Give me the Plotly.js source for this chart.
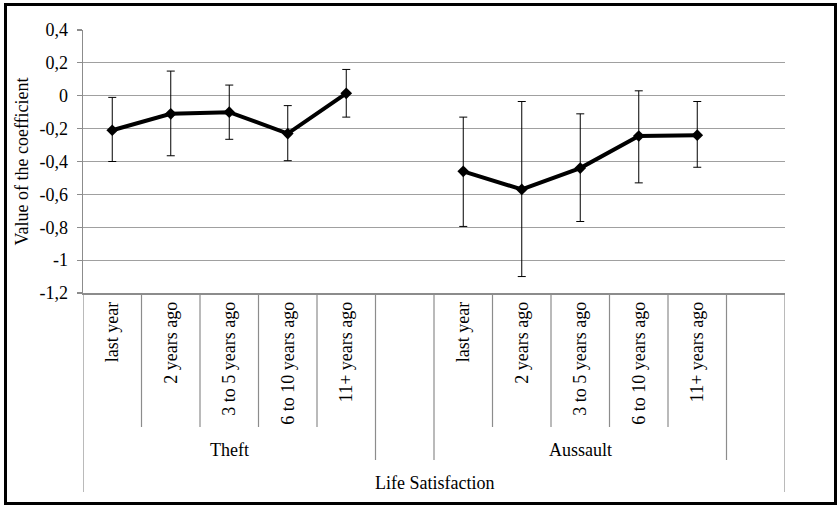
<!DOCTYPE html>
<html>
<head>
<meta charset="utf-8">
<script src="https://cdn.plot.ly/plotly-3.0.1.min.js"></script>
<style>
  html, body { margin: 0; padding: 0; background: #fff; }
  #chart { position: relative; z-index: 1; width: 839px; height: 505px; }
  #pre { position: absolute; left: 200px; top: 200px; z-index: 0; font-family: "Liberation Serif", "Times New Roman", serif; font-size: 18px; color: #fff; }
</style>
</head>
<body>
<div id="pre">Life Satisfaction</div>
<div id="chart"></div>
<script>
// ---- data ----
const periods = ["last year", "2 years ago", "3 to 5 years ago", "6 to 10 years ago", "11+ years ago"];
const groups = ["Theft", "Aussault"];
const outerLabel = "Life Satisfaction";

const theftCoef = [-0.21, -0.11, -0.10, -0.23, 0.015];
const theftHigh = [-0.01, 0.15, 0.065, -0.06, 0.16];
const theftLow  = [-0.40, -0.365, -0.265, -0.395, -0.13];

const assaultCoef = [-0.46, -0.57, -0.44, -0.245, -0.24];
const assaultHigh = [-0.13, -0.035, -0.11, 0.03, -0.035];
const assaultLow  = [-0.795, -1.10, -0.765, -0.53, -0.435];

const yTickVals = [0.4, 0.2, 0, -0.2, -0.4, -0.6, -0.8, -1, -1.2];
const yTickText = ["0,4", "0,2", "0", "-0,2", "-0,4", "-0,6", "-0,8", "-1", "-1,2"];

// ---- layout geometry ----
const W = 839, H = 505;
const M = { l: 83, r: 54, t: 30, b: 212 };
const plotW = W - M.l - M.r, plotH = H - M.t - M.b;
const pxX = p => (p - M.l) / plotW;
const pxY = p => (H - M.b - p) / plotH;

const slotsPerGroup = periods.length + 1;
const nSlots = groups.length * slotsPerGroup;
const tickVals = [], tickText = [];
for (let g = 0; g < groups.length; g++) {
  for (let i = 0; i < slotsPerGroup; i++) {
    tickVals.push(g * slotsPerGroup + i + 1);
    tickText.push(i < periods.length ? periods[i] : "");
  }
}
const xFor = g => periods.map((_, i) => g * slotsPerGroup + i + 1);

const fontFam = "Liberation Serif";
const cssFam = '"Liberation Serif", "Times New Roman", serif';
const FS = 18;
const black = "#000000";
const gray = "#8c8c8c";

function mkTrace(g, coef, hi, lo) {
  return {
    x: xFor(g), y: coef, type: "scatter", mode: "lines+markers",
    line: { color: black, width: 4 },
    marker: { symbol: "diamond", size: 9, color: black },
    error_y: {
      type: "data", symmetric: false,
      array: hi.map((h, i) => h - coef[i]),
      arrayminus: lo.map((l, i) => coef[i] - l),
      color: black, thickness: 1, width: 4
    },
    showlegend: false, hoverinfo: "skip"
  };
}

const traces = [
  mkTrace(0, theftCoef, theftHigh, theftLow),
  mkTrace(1, assaultCoef, assaultHigh, assaultLow)
];

const shapes = [];
const y1Level = pxY(427), y2Level = pxY(460), y3Level = pxY(492);
for (let b = 0; b <= nSlots; b++) {
  let yEnd = y1Level;
  if (b === 0 || b === nSlots) yEnd = y3Level;
  else if (b % slotsPerGroup === 0 || b % slotsPerGroup === periods.length) yEnd = y2Level;
  shapes.push({
    type: "line", xref: "x", yref: "paper",
    x0: b + 0.5, x1: b + 0.5, y0: 0, y1: yEnd,
    line: { color: gray, width: 1.2 }, layer: "below"
  });
}
shapes.push({
  type: "rect", xref: "paper", yref: "paper",
  x0: pxX(5.5), x1: pxX(835.5), y0: pxY(503.5), y1: pxY(4.5),
  line: { color: black, width: 3 }, fillcolor: "rgba(0,0,0,0)"
});

const annotations = [];
groups.forEach((gName, g) => {
  const xs = xFor(g);
  annotations.push({
    text: gName, xref: "x", yref: "paper",
    x: (xs[0] + xs[xs.length - 1]) / 2, y: pxY(450),
    xanchor: "center", yanchor: "middle", showarrow: false
  });
});
annotations.push({
  text: outerLabel, xref: "x", yref: "paper",
  x: (nSlots + 1) / 2, y: pxY(483),
  xanchor: "center", yanchor: "middle", showarrow: false
});

const layout = {
  width: W, height: H,
  margin: M,
  paper_bgcolor: "#fff", plot_bgcolor: "#fff",
  font: { family: fontFam, size: FS, color: black },
  showlegend: false,
  xaxis: {
    range: [0.5, nSlots + 0.5],
    tickmode: "array", tickvals: tickVals, ticktext: tickText,
    tickangle: -90, ticks: "",
    showgrid: false, zeroline: false,
    showline: true, linecolor: gray, linewidth: 1.5,
    fixedrange: true
  },
  yaxis: {
    range: [-1.2, 0.4],
    tickmode: "array", tickvals: yTickVals, ticktext: yTickText,
    ticks: "outside", ticklen: 5, tickcolor: gray, tickwidth: 1.2,
    ticklabelstandoff: 5,
    showgrid: true, gridcolor: "#a0a0a0", gridwidth: 1.2,
    zeroline: false,
    showline: true, linecolor: gray, linewidth: 1.5,
    title: { text: "Value of the coefficient", standoff: 6,
             font: { family: fontFam, size: FS, color: black } },
    fixedrange: true
  },
  shapes: shapes,
  annotations: annotations
};

function forceSerif() {
  document.querySelectorAll("#chart text").forEach(t => {
    t.style.fontFamily = cssFam;
  });
}

function draw() {
  return Plotly.newPlot("chart", traces, layout, { staticPlot: true, displayModeBar: false })
    .then(gd => { forceSerif(); gd.on && gd.on("plotly_afterplot", forceSerif); return gd; });
}
draw();
if (document.fonts && document.fonts.ready) {
  document.fonts.ready.then(draw).catch(() => {});
}
</script>
</body>
</html>
